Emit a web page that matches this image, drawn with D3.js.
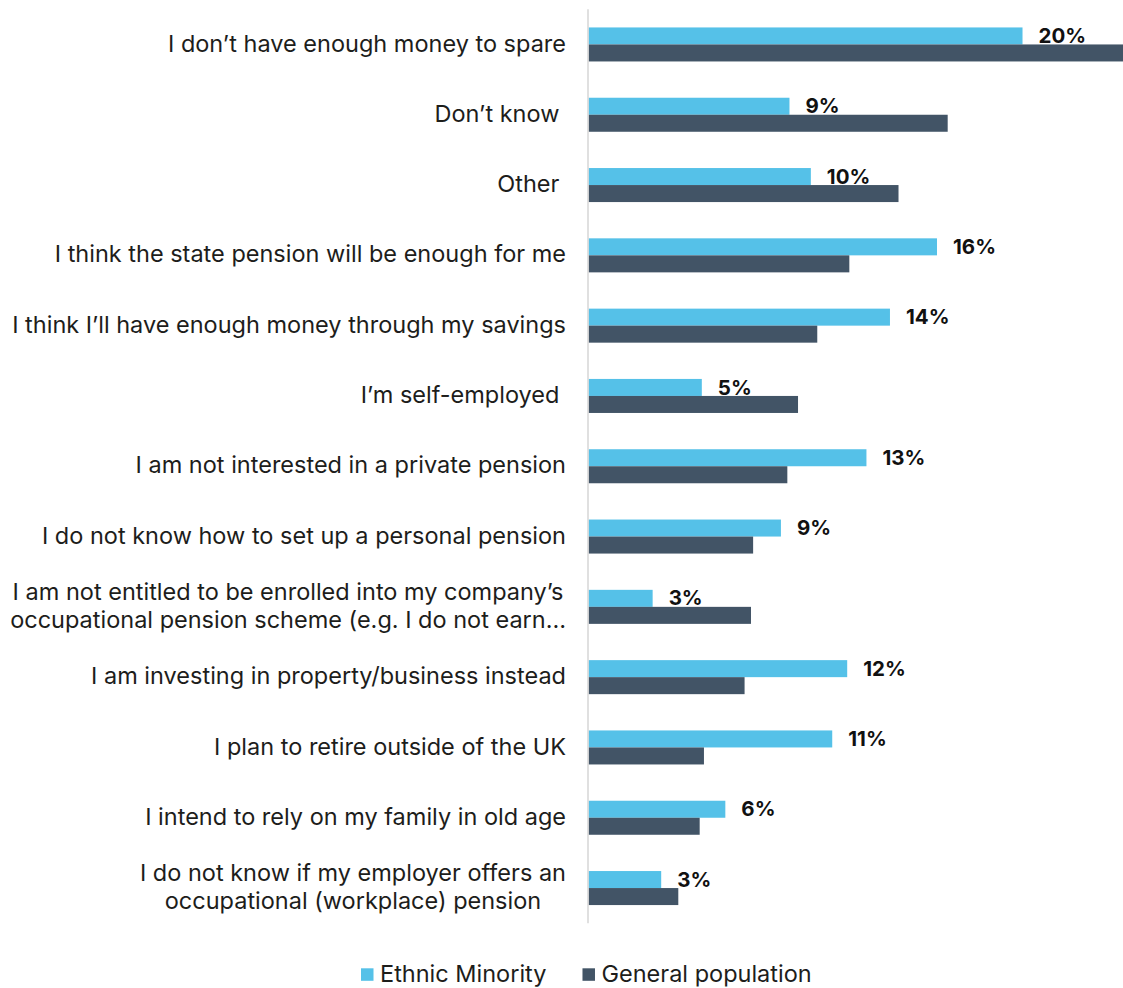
<!DOCTYPE html>
<html><head><meta charset="utf-8">
<script src="https://cdn.jsdelivr.net/npm/d3@7"></script>
<style>
html,body{margin:0;padding:0;background:#fff;}
svg{display:block;}
text{font-family:Inter,"Noto Sans",sans-serif;fill:#1d1d1b;}
</style></head>
<body>
<svg id="chart" width="1123" height="988"></svg>
<script>
const categories = [
  "I don’t have enough money to spare",
  "Don’t know ",
  "Other ",
  "I think the state pension will be enough for me",
  "I think I’ll have enough money through my savings",
  "I’m self-employed ",
  "I am not interested in a private pension",
  "I do not know how to set up a personal pension",
  "I am not entitled to be enrolled into my company’s\noccupational pension scheme (e.g. I do not earn…",
  "I am investing in property/business instead",
  "I plan to retire outside of the UK",
  "I intend to rely on my family in old age",
  "I do not know if my employer offers an\noccupational (workplace) pension"
];
const seriesNames = ["Ethnic Minority", "General population"];
const ethnicMinority    = [20.3, 9.4, 10.4, 16.3, 14.1, 5.3, 13.0, 9.0, 3.0, 12.1, 11.4, 6.4, 3.4];
const generalPopulation = [26.0, 16.8, 14.5, 12.2, 10.7, 9.8, 9.3, 7.7, 7.6, 7.3, 5.4, 5.2, 4.2];
const xDomain = [0, 25];
const colors = ["#55C1E8", "#425466"];

const svg = d3.select("#chart");
const x = d3.scaleLinear().domain(xDomain).range([588.5, 1123]).clamp(true);
const y = d3.scaleBand().domain(categories).range([9.3, 923.2]).paddingInner(0.516).paddingOuter(0.258);
const ys = d3.scaleBand().domain(seriesNames).range([0, y.bandwidth()]);

const rows = categories.map((c, i) => ({cat: c, vals: [ethnicMinority[i], generalPopulation[i]]}));

// bars
const g = svg.append("g");
const rowG = g.selectAll("g.row").data(rows).join("g").attr("class", "row")
  .attr("transform", d => `translate(0,${y(d.cat)})`);
rowG.selectAll("rect").data(d => d.vals.map((v, k) => ({v, s: seriesNames[k], k})))
  .join("rect")
  .attr("x", x(0))
  .attr("y", d => ys(d.s))
  .attr("width", d => x(d.v) - x(0))
  .attr("height", ys.bandwidth())
  .attr("fill", d => colors[d.k]);

// value labels (Ethnic Minority)
const fmt = v => d3.format(".0f")(v) + "%";
rowG.append("text")
  .attr("x", d => x(d.vals[0]) + 16)
  .attr("y", ys.bandwidth() - 1.4)
  .attr("font-size", 20.5)
  .attr("font-weight", 700)
  .style("fill", "#111")
  .text(d => fmt(d.vals[0]));

// axis line
svg.append("line")
  .attr("x1", 588).attr("x2", 588)
  .attr("y1", y.range()[0]).attr("y2", y.range()[1])
  .attr("stroke", "#d9d9d9").attr("stroke-width", 1.6);

// category labels
const labelRight = 566;
const fs = 23.5, lh = 27.5;
categories.forEach(c => {
  const lines = c.split("\n");
  const cy = y(c) + y.bandwidth() / 2;
  const t = svg.append("text").attr("font-size", fs).style("white-space", "pre");
  if (lines.length === 1) {
    t.attr("x", labelRight).attr("y", cy).attr("dy", "0.3em")
     .attr("text-anchor", "end").text(lines[0]);
  } else {
    const spans = t.selectAll("tspan").data(lines).join("tspan").text(d => d);
    const w = d3.max(spans.nodes(), n => n.getComputedTextLength());
    const cx = labelRight - w / 2;
    const y0 = cy - (lines.length - 1) * lh / 2;
    spans.attr("x", cx).attr("y", (d, i) => y0 + i * lh).attr("dy", "0.3em")
      .attr("text-anchor", "middle");
  }
});

// legend
const leg = svg.append("g").attr("transform", "translate(361,968.3)");
let lx = 0;
seriesNames.forEach((s, k) => {
  leg.append("rect").attr("x", lx).attr("y", 0).attr("width", 12.5).attr("height", 12.5).attr("fill", colors[k]);
  const t = leg.append("text").attr("x", lx + 19).attr("y", 13.5).attr("font-size", fs).text(s);
  lx += 19 + t.node().getComputedTextLength() + 36;
});
</script>
</body></html>
